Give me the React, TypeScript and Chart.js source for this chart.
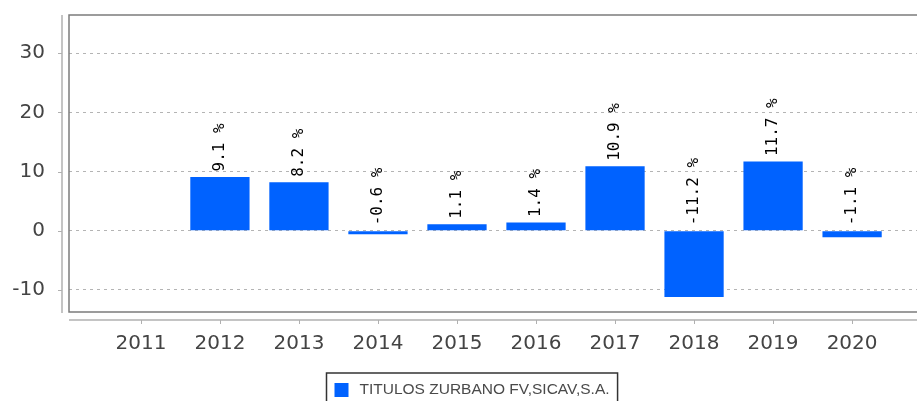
import React, { useEffect, useRef } from "react";
import { Chart, registerables } from "chart.js";

Chart.register(...registerables);

// ---- data ----
const years = [2011, 2012, 2013, 2014, 2015, 2016, 2017, 2018, 2019, 2020];
const returns: (number | null)[] = [null, 9.1, 8.2, -0.6, 1.1, 1.4, 10.9, -11.2, 11.7, -1.1];
const yTickValues = [-10, 0, 10, 20, 30];
const seriesLabel = "TITULOS ZURBANO FV,SICAV,S.A.";

// axis ranges
const X_MIN = 2010.09;
const X_MAX = 2020.91;
const Y_MIN = -13.72;
const Y_MAX = 36.47;

const BAR_COLOR = "#0062ff";
const TICK_FONT = { family: "'DejaVu Sans', sans-serif", size: 20 };

const valueLabelPlugin = {
  id: "valueLabels",
  afterDatasetsDraw(chart: any) {
    const { ctx, scales } = chart;
    const meta = chart.getDatasetMeta(0);
    ctx.save();
    ctx.font = "16px 'DejaVu Sans Mono', monospace";
    ctx.fillStyle = "#000";
    ctx.textAlign = "left";
    ctx.textBaseline = "middle";
    meta.data.forEach((el: any, i: number) => {
      const v = returns[i];
      if (v === null || v === undefined) return;
      const y = scales.y.getPixelForValue(Math.max(v, 0)) - 5.5;
      ctx.save();
      ctx.translate(el.x, y);
      ctx.rotate(-Math.PI / 2);
      ctx.fillText(v.toFixed(1) + " %", 0, 0);
      ctx.restore();
    });
    ctx.restore();
  },
};

const decorPlugin = {
  id: "decor",
  afterDraw(chart: any) {
    const { ctx, chartArea: a, scales } = chart;
    const line = (x1: number, y1: number, x2: number, y2: number) => {
      ctx.beginPath();
      ctx.moveTo(x1, y1);
      ctx.lineTo(x2, y2);
      ctx.stroke();
    };
    ctx.save();
    // plot frame (top, left, bottom; right side lies outside the visible area)
    ctx.strokeStyle = "#7c7c7c";
    ctx.lineWidth = 1.5;
    ctx.beginPath();
    ctx.moveTo(a.right, a.top);
    ctx.lineTo(a.left, a.top);
    ctx.lineTo(a.left, a.bottom);
    ctx.lineTo(a.right, a.bottom);
    ctx.stroke();

    // detached y axis line + ticks
    const ax = a.left - 7;
    ctx.strokeStyle = "#b0b0b0";
    ctx.lineWidth = 1.5;
    line(ax, a.top, ax, a.bottom + 1);
    ctx.lineWidth = 1;
    scales.y.ticks.forEach((t: any) => {
      const y = Math.round(scales.y.getPixelForValue(t.value)) + 0.5;
      line(ax - 4, y, ax, y);
    });

    // detached x axis line + ticks
    const ay = a.bottom + 8;
    ctx.lineWidth = 1.5;
    line(a.left, ay, a.right, ay);
    ctx.lineWidth = 1;
    scales.x.ticks.forEach((t: any) => {
      const x = Math.round(scales.x.getPixelForValue(t.value)) + 0.5;
      line(x, ay, x, ay + 4);
    });

    // legend
    const ds = chart.data.datasets[0];
    ctx.font = "15.5px 'Liberation Sans', Arial, sans-serif";
    const tw = ctx.measureText(ds.label).width;
    const boxW = 8 + 14 + 11 + tw + 8;
    const boxH = 34;
    const left = Math.round(chart.width / 2 - boxW / 2) + 0.5;
    const top = a.bottom + 61;
    ctx.strokeStyle = "#333";
    ctx.lineWidth = 1.5;
    ctx.strokeRect(left, top, boxW, boxH);
    ctx.fillStyle = ds.backgroundColor;
    ctx.fillRect(left + 8, top + 10, 14, 14);
    ctx.fillStyle = "#4a4a4a";
    ctx.textAlign = "left";
    ctx.textBaseline = "middle";
    ctx.fillText(ds.label, left + 8 + 14 + 11, top + 17);
    ctx.restore();
  },
};

export default function App() {
  const canvasRef = useRef<HTMLCanvasElement | null>(null);

  useEffect(() => {
    if (!canvasRef.current) return;
    const chart = new Chart(canvasRef.current, {
      type: "bar",
      data: {
        datasets: [
          {
            label: seriesLabel,
            data: years.map((yr, i) => ({ x: yr, y: returns[i] })) as any,
            backgroundColor: BAR_COLOR,
            borderWidth: 0,
            categoryPercentage: 1,
            barPercentage: 0.75,
          },
        ],
      },
      options: {
        animation: false,
        responsive: false,
        devicePixelRatio: 1,
        layout: { padding: { top: 15, right: 19, left: 0, bottom: 0 } },
        plugins: {
          legend: { display: false },
          tooltip: { enabled: false },
        },
        scales: {
          x: {
            type: "linear",
            offset: false,
            min: X_MIN,
            max: X_MAX,
            afterBuildTicks: (scale: any) => {
              scale.ticks = years.map((v) => ({ value: v }));
            },
            afterFit: (scale: any) => {
              scale.height = 108;
              scale.paddingLeft = 0;
              scale.paddingRight = 0;
              scale.paddingTop = 0;
              scale.paddingBottom = 0;
            },
            grid: { display: false, drawTicks: false, offset: false },
            border: { display: false },
            ticks: {
              font: TICK_FONT,
              color: "#444",
              padding: 20,
              maxRotation: 0,
              autoSkip: false,
              callback: (v: any) => String(v),
            },
          },
          y: {
            type: "linear",
            min: Y_MIN,
            max: Y_MAX,
            afterBuildTicks: (scale: any) => {
              scale.ticks = yTickValues.map((v) => ({ value: v }));
            },
            afterFit: (scale: any) => {
              scale.width = 69;
              scale.paddingLeft = 0;
              scale.paddingRight = 0;
              scale.paddingTop = 0;
              scale.paddingBottom = 0;
            },
            grid: { color: "#b4b4b4", lineWidth: 1, drawTicks: false },
            border: { display: false, dash: [3, 4] },
            ticks: {
              font: TICK_FONT,
              color: "#444",
              padding: 24,
              callback: (v: any) => String(v),
            },
          },
        },
      },
      plugins: [valueLabelPlugin, decorPlugin],
    });
    return () => chart.destroy();
  }, []);

  return (
    <div
      style={{
        position: "fixed",
        left: 0,
        top: 0,
        width: 917,
        height: 401,
        overflow: "hidden",
        background: "#fff",
      }}
    >
      <canvas ref={canvasRef} width={943} height={420} style={{ display: "block" }} />
    </div>
  );
}
